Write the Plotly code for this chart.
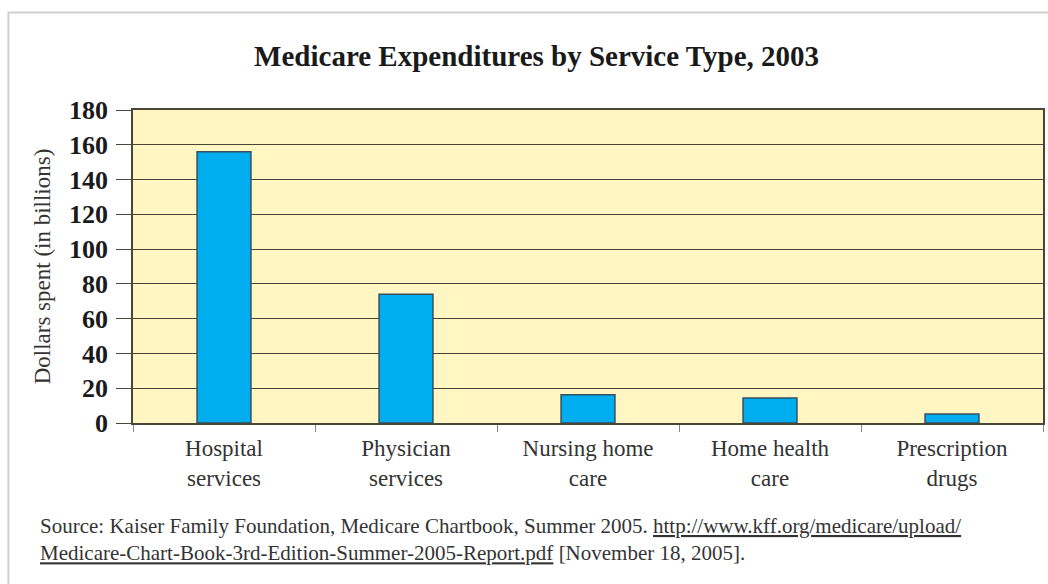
import plotly.graph_objects as go

# Medicare spending by type of service, 2003 (billions of dollars)
categories = [
    "Hospital<br>services",
    "Physician<br>services",
    "Nursing home<br>care",
    "Home health<br>care",
    "Prescription<br>drugs",
]
spending = [156.0, 74.1, 16.3, 14.4, 5.2]
y_ticks = [0, 20, 40, 60, 80, 100, 120, 140, 160, 180]

SERIF = "Liberation Serif, Times New Roman, serif"
GRID = "#4a4535"

fig = go.Figure(
    go.Bar(
        x=categories,
        y=spending,
        width=0.296,
        marker=dict(color="#00aeef", line=dict(color="#35505e", width=1.5)),
        hoverinfo="x+y",
    )
)

fig.update_layout(
    width=1048,
    height=584,
    margin=dict(l=133, r=3, t=110, b=161),
    paper_bgcolor="white",
    plot_bgcolor="#fff6c3",
    showlegend=False,
    font=dict(family=SERIF, color="#222222"),
    title=dict(
        text="<b>Medicare Expenditures by Service Type, 2003</b>",
        x=0.512,
        xanchor="center",
        xref="container",
        y=0.905,
        yanchor="middle",
        font=dict(family=SERIF, size=29, color="#1a1a1a"),
    ),
    bargap=0.7,
)

fig.update_yaxes(
    range=[0, 180],
    tickvals=y_ticks,
    ticktext=[f"<b>{v}</b>" for v in y_ticks],
    tickfont=dict(family=SERIF, size=26, color="#1a1a1a"),
    ticks="outside",
    ticklen=15,
    tickcolor=GRID,
    tickwidth=1.4,
    ticklabelstandoff=3,
    showgrid=True,
    gridcolor=GRID,
    gridwidth=1.4,
    showline=True,
    linecolor=GRID,
    linewidth=1.6,
    mirror=True,
    zeroline=False,
    title=dict(
        text="Dollars spent (in billions)",
        font=dict(family=SERIF, size=23, color="#333333"),
        standoff=12,
    ),
)

fig.update_xaxes(
    tickson="boundaries",
    ticks="outside",
    ticklen=7,
    tickcolor="#888888",
    tickwidth=1,
    tickfont=dict(family=SERIF, size=23, color="#333333"),
    ticklabelstandoff=4,
    showline=True,
    linecolor=GRID,
    linewidth=1.6,
    mirror=True,
    showgrid=False,
)

# light frame around the whole figure
fig.add_shape(
    type="rect",
    xref="paper",
    yref="paper",
    x0=-0.1369,
    x1=1.2,
    y0=-0.8,
    y1=1.3115,
    line=dict(color="#cfcfcf", width=2),
    fillcolor="rgba(0,0,0,0)",
    layer="below",
)

fig.add_annotation(
    text=(
        "Source: Kaiser Family Foundation, Medicare Chartbook, Summer 2005. "
        "<u>http://www.kff.org/medicare/upload/</u><br>"
        "<u>Medicare-Chart-Book-3rd-Edition-Summer-2005-Report.pdf</u> [November 18, 2005]."
    ),
    xref="paper",
    yref="paper",
    x=-0.1044,
    y=-0.285,
    xanchor="left",
    yanchor="top",
    align="left",
    showarrow=False,
    font=dict(family=SERIF, size=21, color="#333333"),
)

fig.write_html("out.html")
